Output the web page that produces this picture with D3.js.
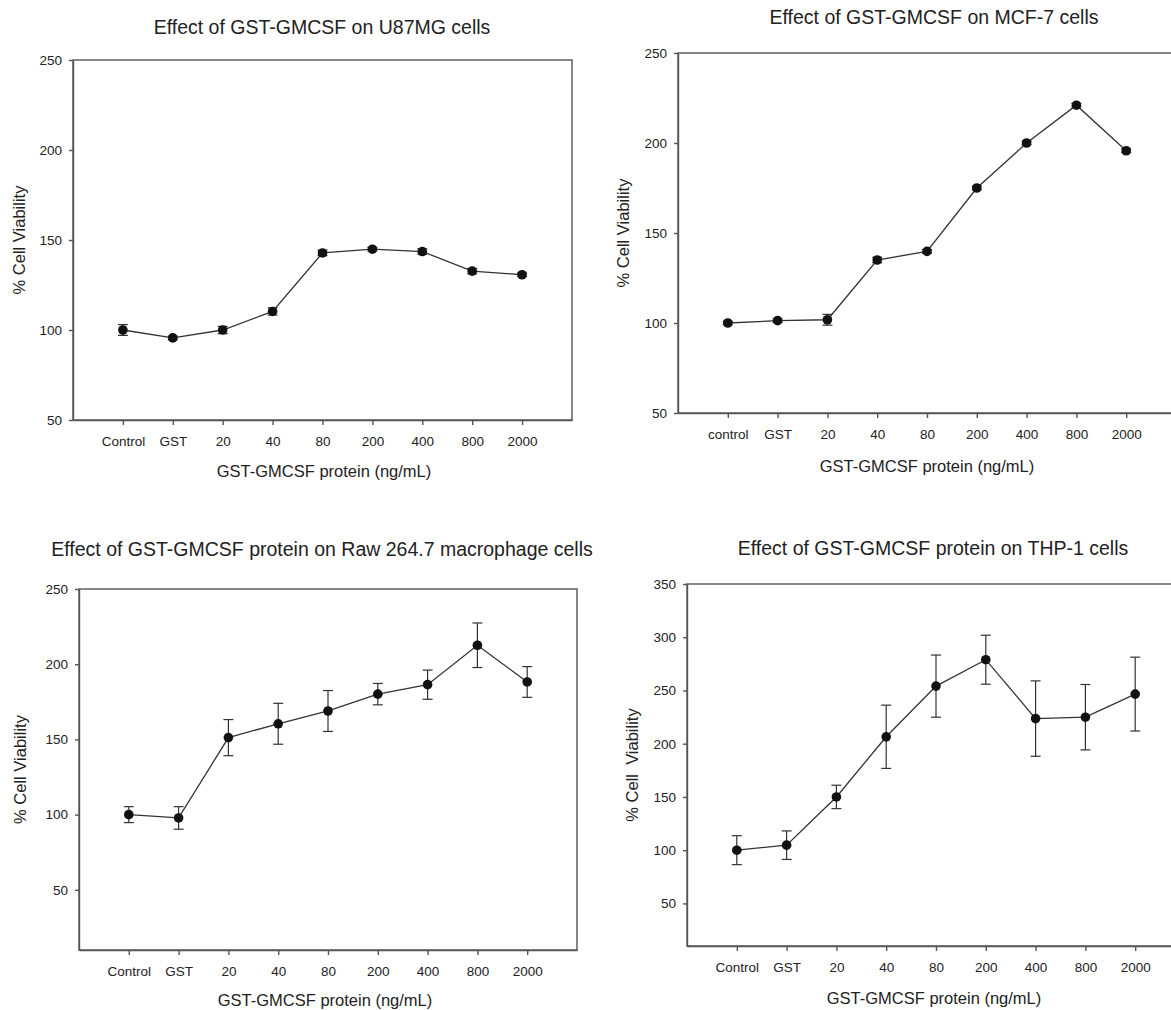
<!DOCTYPE html>
<html>
<head>
<meta charset="utf-8">
<script src="https://cdn.jsdelivr.net/npm/d3@7"></script>
<style>
  body { margin: 0; background: #fff; }
  svg { display: block; font-family: "Liberation Sans", Arial, sans-serif; }
  .axis path, .axis line { stroke: #555; stroke-width: 1.4; }
  .axis text { fill: #222; font-size: 13.5px; }
</style>
</head>
<body>
<div id="chart"></div>
<script>
// x categories
const doses = ["Control", "GST", "20", "40", "80", "200", "400", "800", "2000"];
const dosesMcf = ["control", "GST", "20", "40", "80", "200", "400", "800", "2000"];

// U87MG
const u87Mean = [100, 95.6, 100, 110.3, 142.8, 144.9, 143.6, 132.7, 130.7];
const u87Err = [3, 1, 2, 2, 1.5, 1, 1.5, 1.5, 1];

// MCF-7
const mcfMean = [100, 101.3, 101.8, 135, 139.8, 175, 200, 221, 195.7];
const mcfErr = [1, 1, 3, 1.5, 1, 1, 1, 1, 1];

// Raw 264.7
const rawMean = [100, 97.8, 151.2, 160.4, 168.9, 180.1, 186.4, 212.6, 188.2];
const rawErr = [5.3, 7.5, 12, 13.6, 13.6, 7.1, 9.7, 14.8, 10.2];

// THP-1
const thpMean = [100, 104.7, 150, 206.5, 254.1, 278.9, 223.6, 224.9, 246.6];
const thpErr = [13.6, 13.4, 11, 29.7, 29.2, 23, 35.4, 30.7, 34.7];

const yTicksA = [50, 100, 150, 200, 250];
const yTicksB = [50, 100, 150, 200, 250, 300, 350];

const svg = d3
    .select("#chart")
    .append("svg")
    .attr("width", 1171)
    .attr("height", 1010);

const panels = [
    {
        title: "Effect of GST-GMCSF on U87MG cells",
        ylabel: "% Cell Viability",
        cats: doses, mean: u87Mean, err: u87Err,
        domain: [50, 250], ticks: yTicksA,
        left: 73, top: 60, width: 499, height: 360,
        titleX: 322, titleY: 34, xlabX: 324, xlabY: 477, ylabX: 19,
    },
    {
        title: "Effect of GST-GMCSF on MCF-7 cells",
        ylabel: "% Cell Viability",
        cats: dosesMcf, mean: mcfMean, err: mcfErr,
        domain: [50, 250], ticks: yTicksA,
        left: 678, top: 53, width: 498, height: 360,
        titleX: 934, titleY: 24, xlabX: 927, xlabY: 472, ylabX: 623,
    },
    {
        title: "Effect of GST-GMCSF protein on Raw 264.7 macrophage cells",
        ylabel: "% Cell Viability",
        cats: doses, mean: rawMean, err: rawErr,
        domain: [10, 250], ticks: yTicksA,
        left: 79, top: 589, width: 498, height: 361,
        titleX: 322, titleY: 556, xlabX: 325, xlabY: 1006, ylabX: 20,
    },
    {
        title: "Effect of GST-GMCSF protein on THP-1 cells",
        ylabel: "% Cell  Viability",
        cats: doses, mean: thpMean, err: thpErr,
        domain: [10, 350], ticks: yTicksB,
        left: 687, top: 584, width: 498, height: 362,
        titleX: 933, titleY: 555, xlabX: 934, xlabY: 1004, ylabX: 632,
    },
];

const drawPanel = (p) => {
    const g = svg.append("g").attr("transform", `translate(${p.left}, ${p.top})`);

    const x = d3.scalePoint().domain(p.cats).range([0, p.width]).padding(1);
    const y = d3.scaleLinear().domain(p.domain).range([p.height, 0]);

    // frame
    g.append("rect")
        .attr("width", p.width)
        .attr("height", p.height)
        .attr("fill", "none")
        .attr("stroke", "#555")
        .attr("stroke-width", 1.4);

    g.append("g")
        .attr("class", "axis")
        .attr("transform", `translate(0, ${p.height})`)
        .call(d3.axisBottom(x).tickSize(5).tickPadding(11).tickSizeOuter(0));

    g.append("g")
        .attr("class", "axis")
        .call(d3.axisLeft(y).tickValues(p.ticks).tickSize(4).tickPadding(7).tickSizeOuter(0));

    const pts = p.cats.map((c, i) => ({ c: c, m: p.mean[i], e: p.err[i] }));

    // error bars
    const eb = g.selectAll(".eb").data(pts).enter().append("g")
        .attr("stroke", "#333").attr("stroke-width", 1.2);
    eb.append("line")
        .attr("x1", (d) => x(d.c)).attr("x2", (d) => x(d.c))
        .attr("y1", (d) => y(d.m + d.e)).attr("y2", (d) => y(d.m - d.e));
    eb.append("line")
        .attr("x1", (d) => x(d.c) - 5).attr("x2", (d) => x(d.c) + 5)
        .attr("y1", (d) => y(d.m + d.e)).attr("y2", (d) => y(d.m + d.e));
    eb.append("line")
        .attr("x1", (d) => x(d.c) - 5).attr("x2", (d) => x(d.c) + 5)
        .attr("y1", (d) => y(d.m - d.e)).attr("y2", (d) => y(d.m - d.e));

    const line = d3.line().x((d) => x(d.c)).y((d) => y(d.m));
    g.append("path")
        .datum(pts)
        .attr("d", line)
        .attr("fill", "none")
        .attr("stroke", "#333")
        .attr("stroke-width", 1.3);

    g.selectAll(".dot").data(pts).enter().append("circle")
        .attr("cx", (d) => x(d.c))
        .attr("cy", (d) => y(d.m))
        .attr("r", 4.8)
        .attr("fill", "#111");

    //Labels
    svg.append("text")
        .attr("x", p.titleX).attr("y", p.titleY)
        .attr("text-anchor", "middle")
        .attr("font-size", "19.5px")
        .attr("fill", "#222")
        .text(p.title);

    svg.append("text")
        .attr("x", p.xlabX).attr("y", p.xlabY)
        .attr("text-anchor", "middle")
        .attr("font-size", "16.5px")
        .attr("fill", "#222")
        .text(p.xlabel || "GST-GMCSF protein (ng/mL)");

    svg.append("text")
        .attr("transform", `translate(${p.ylabX}, ${p.top + p.height / 2}) rotate(-90)`)
        .attr("text-anchor", "middle")
        .attr("dy", "0.35em")
        .attr("font-size", "16.5px")
        .attr("fill", "#222")
        .style("white-space", "pre")
        .text(p.ylabel);
};

panels.forEach(drawPanel);
</script>
</body>
</html>
